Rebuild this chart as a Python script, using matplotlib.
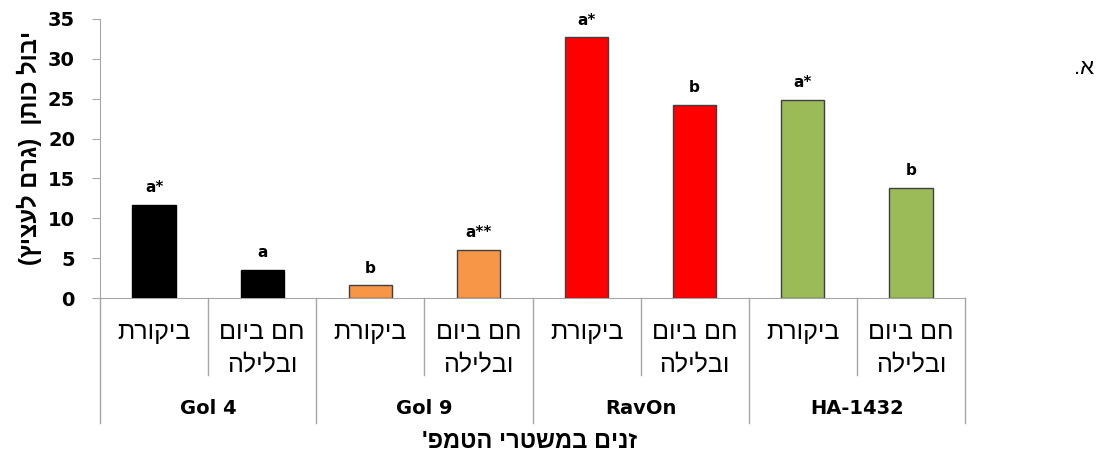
import matplotlib
matplotlib.use('Agg')
import matplotlib.pyplot as plt
import matplotlib.transforms as mtransforms

# cotton yield per pot, by variety and temperature regime
groups = ['Gol 4', 'Gol 9', 'RavOn', 'HA-1432']
treatments = ['ביקורת', 'חם ביום\nובלילה']
control = [11.7, 1.6, 32.7, 24.9]
heat = [3.5, 6.0, 24.2, 13.8]
sig_control = ['a*', 'b', 'a*', 'a*']
sig_heat = ['a', 'a**', 'b', 'b']
colors = ['#000000', '#F79646', '#FF0000', '#9BBB59']
edges = ['#000000', '#404040', '#404040', '#404040']

ylabel = 'יבול כותן  (גרם לעציץ)'
xlabel = "זנים במשטרי הטמפ'"

hebfont = ['Liberation Sans', 'DejaVu Sans']


def heb(s):
    # matplotlib has no bidi, so lay hebrew out right-to-left by hand
    out = []
    for line in s.split('\n'):
        r = line[::-1]
        r = r.translate(str.maketrans('()', ')('))
        out.append(r)
    return '\n'.join(out)


fig = plt.figure(figsize=(11.08, 4.57), dpi=100)
ax = fig.add_axes([100/1108, 1-298/457, 865/1108, 279/457])

grey = '#A6A6A6'
for i in range(len(groups)):
    x0 = 2*i
    ax.bar(x0, control[i], 0.4, color=colors[i], edgecolor=edges[i], lw=1, zorder=3)
    ax.bar(x0+1, heat[i], 0.4, color=colors[i], edgecolor=edges[i], lw=1, zorder=3)
    ax.annotate(sig_control[i], (x0, control[i]), xytext=(0, 7), textcoords='offset points',
                ha='center', va='bottom', fontsize=11, fontweight='bold')
    ax.annotate(sig_heat[i], (x0+1, heat[i]), xytext=(0, 7), textcoords='offset points',
                ha='center', va='bottom', fontsize=11, fontweight='bold')

ax.set_xlim(-0.5, 7.5)
ax.set_ylim(0, 35)
ax.set_yticks(range(0, 36, 5))
ax.set_xticks([])
for s in ['top', 'right']:
    ax.spines[s].set_visible(False)
ax.spines['left'].set_color(grey)
ax.spines['bottom'].set_color(grey)
ax.tick_params(axis='y', direction='out', length=6, color=grey, labelsize=14, pad=12)
for t in ax.get_yticklabels():
    t.set_fontweight('bold')

# category table under the axis
tr = mtransforms.blended_transform_factory(ax.transData, fig.transFigure)
for k in range(9):
    xb = k - 0.5
    ylow = 1-423/457 if k % 2 == 0 else 1-375/457
    ax.plot([xb, xb], [1-298/457, ylow], color=grey, lw=1, transform=tr, clip_on=False)

for i in range(len(groups)):
    for j, lab in enumerate(treatments):
        ax.text(2*i+j, 1-320/457, heb(lab), transform=tr, ha='center', va='top',
                fontsize=18, linespacing=1.45, family=hebfont)
    ax.text(2*i+0.5, 1-409/457, groups[i], transform=tr, ha='center', va='center',
            fontsize=14, fontweight='bold')

fig.text(530/1108, 1-441/457, heb(xlabel), ha='center', va='center',
         fontsize=17, fontweight='bold', family=hebfont)
fig.text(29/1108, 1-148/457, heb(ylabel), ha='center', va='center', rotation=90,
         fontsize=17, fontweight='bold', family=hebfont)
fig.text(1084/1108, 1-69/457, heb('א.'), ha='center', va='center', fontsize=16,
         family=hebfont)

fig.savefig('out.png', dpi=100)
